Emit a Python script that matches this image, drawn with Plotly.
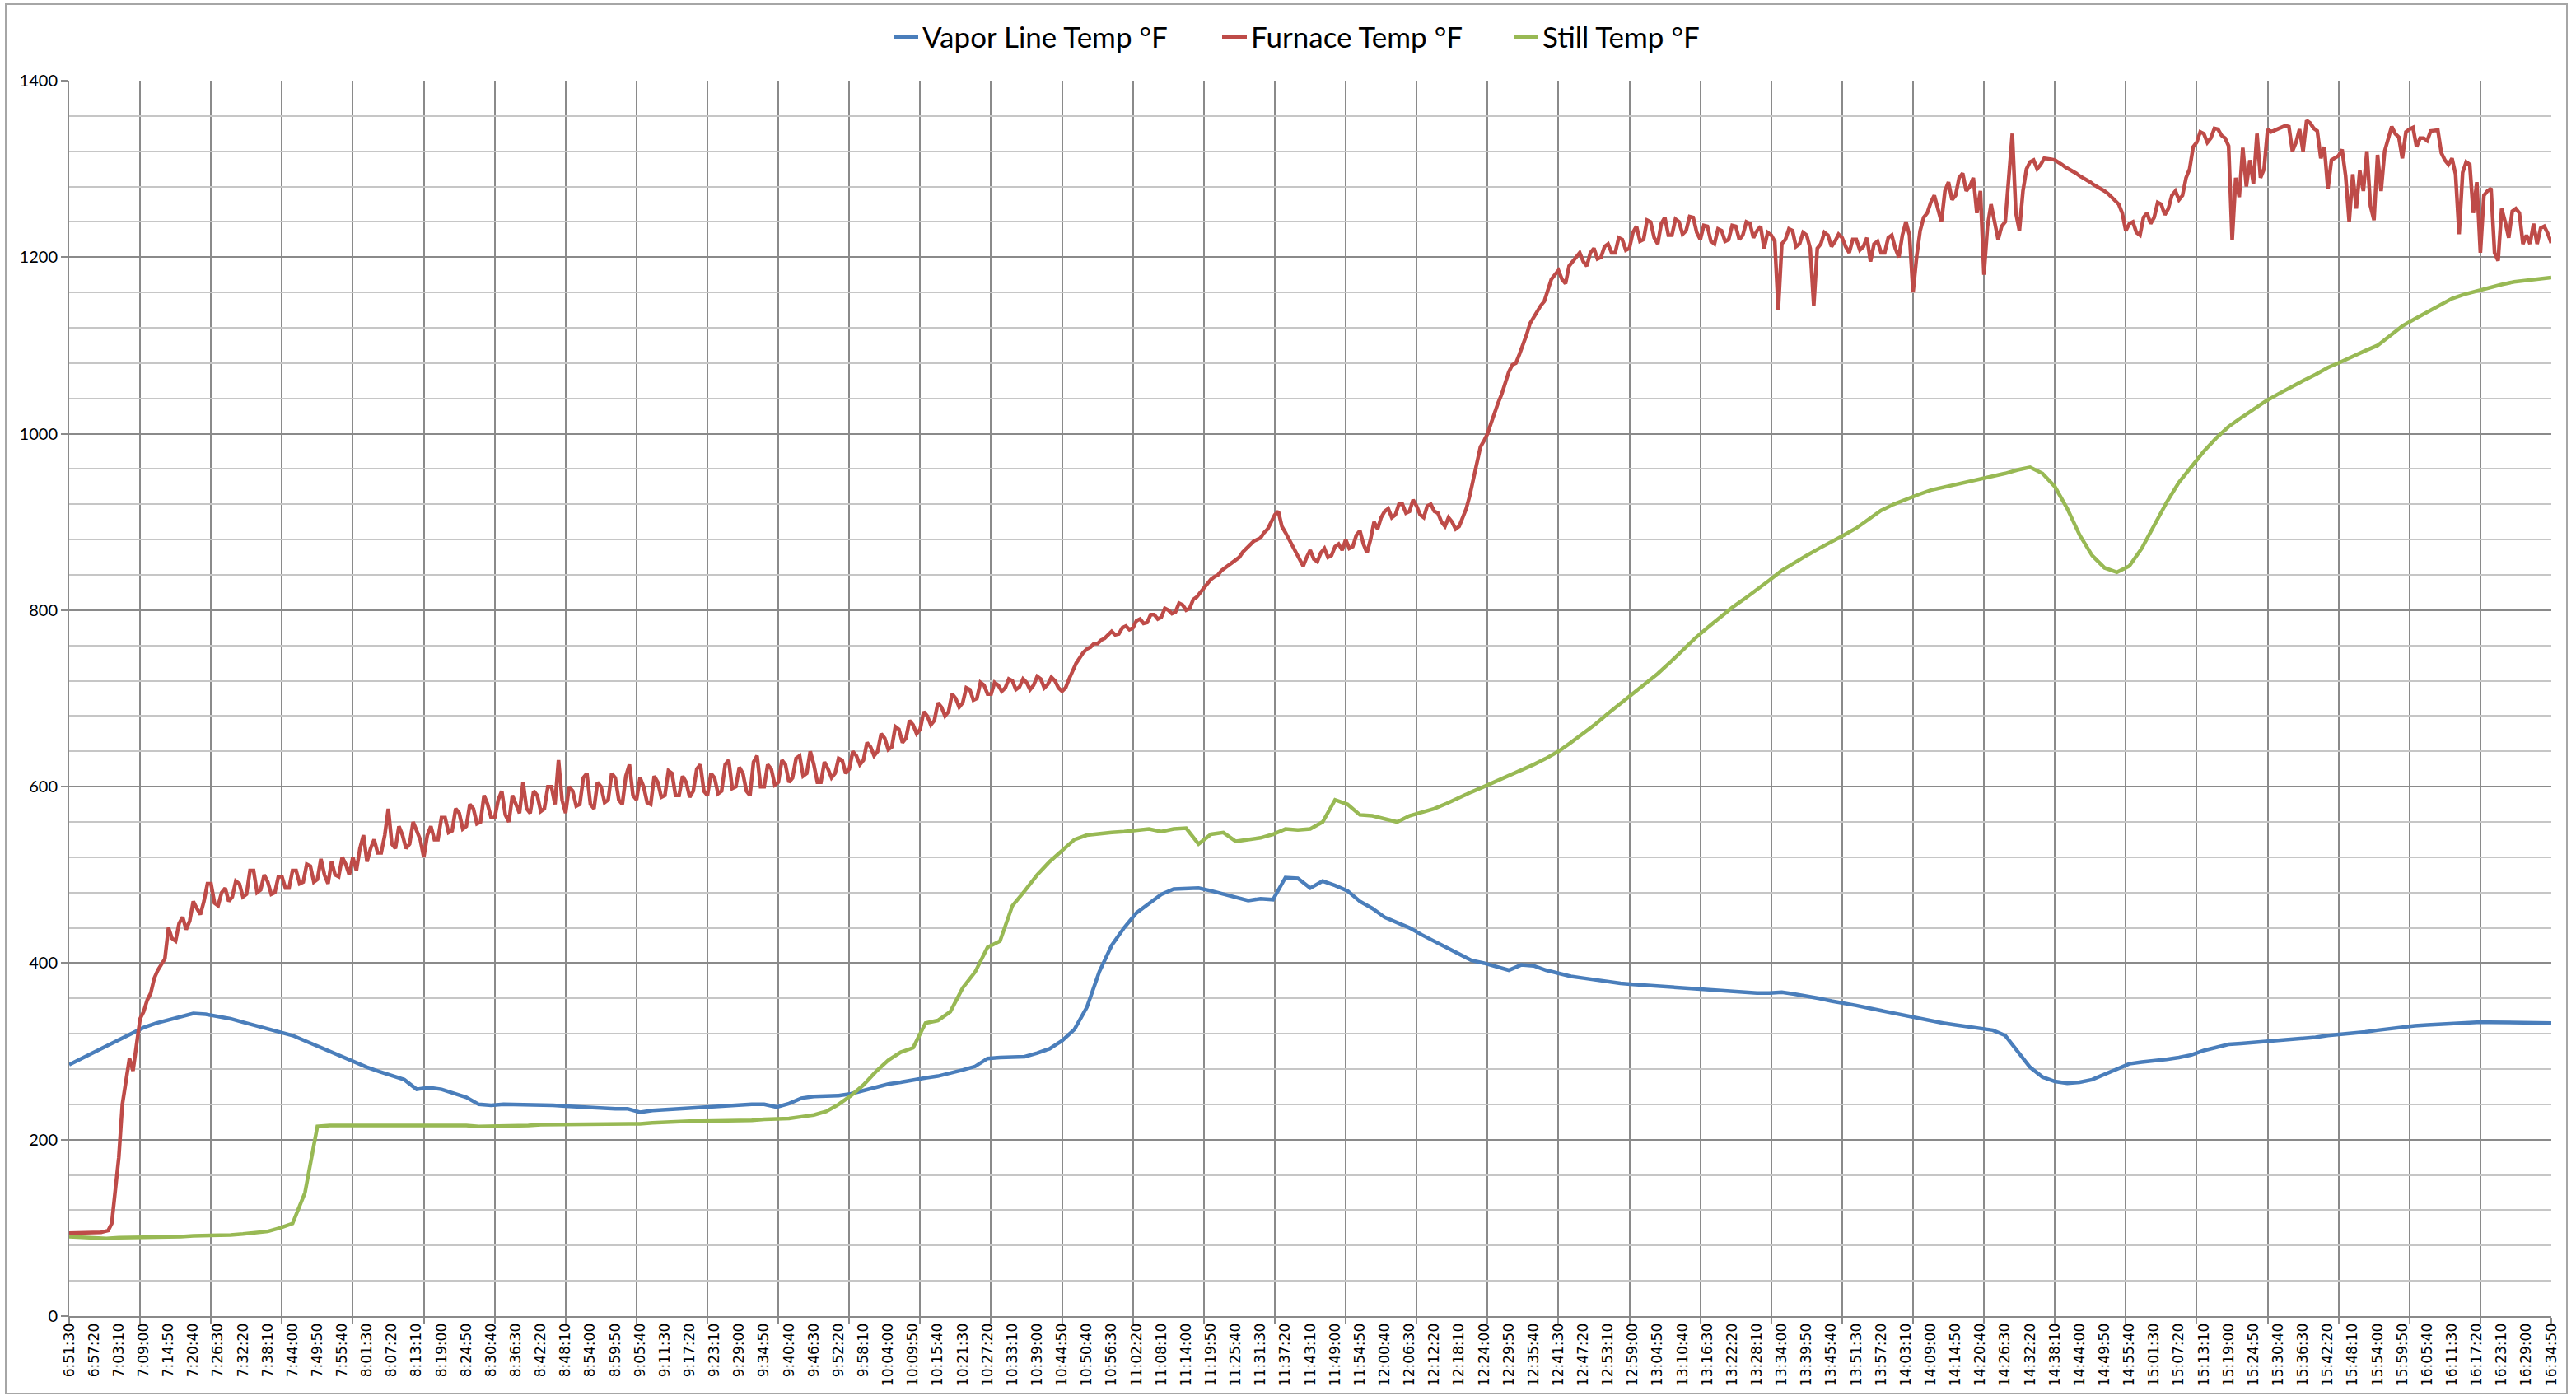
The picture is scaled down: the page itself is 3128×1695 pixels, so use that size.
import plotly.graph_objects as go

# ---------------- data ----------------
# category tick labels (one every 350 s of logging)
time_labels = [
    "6:51:30", "6:57:20", "7:03:10", "7:09:00", "7:14:50", "7:20:40", "7:26:30", "7:32:20", "7:38:10", "7:44:00",
    "7:49:50", "7:55:40", "8:01:30", "8:07:20", "8:13:10", "8:19:00", "8:24:50", "8:30:40", "8:36:30", "8:42:20",
    "8:48:10", "8:54:00", "8:59:50", "9:05:40", "9:11:30", "9:17:20", "9:23:10", "9:29:00", "9:34:50", "9:40:40",
    "9:46:30", "9:52:20", "9:58:10", "10:04:00", "10:09:50", "10:15:40", "10:21:30", "10:27:20", "10:33:10", "10:39:00",
    "10:44:50", "10:50:40", "10:56:30", "11:02:20", "11:08:10", "11:14:00", "11:19:50", "11:25:40", "11:31:30", "11:37:20",
    "11:43:10", "11:49:00", "11:54:50", "12:00:40", "12:06:30", "12:12:20", "12:18:10", "12:24:00", "12:29:50", "12:35:40",
    "12:41:30", "12:47:20", "12:53:10", "12:59:00", "13:04:50", "13:10:40", "13:16:30", "13:22:20", "13:28:10", "13:34:00",
    "13:39:50", "13:45:40", "13:51:30", "13:57:20", "14:03:10", "14:09:00", "14:14:50", "14:20:40", "14:26:30", "14:32:20",
    "14:38:10", "14:44:00", "14:49:50", "14:55:40", "15:01:30", "15:07:20", "15:13:10", "15:19:00", "15:24:50", "15:30:40",
    "15:36:30", "15:42:20", "15:48:10", "15:54:00", "15:59:50", "16:05:40", "16:11:30", "16:17:20", "16:23:10", "16:29:00",
    "16:34:50",
]
label_every_s = 350      # seconds between tick labels
grid_every_s = 1000      # seconds between vertical gridlines
total_s = 35000

series_names = ["Vapor Line Temp °F", "Furnace Temp °F", "Still Temp °F"]

# Vapor line temperature, one reading every 175 s
vapor_step_s = 175
vapor_line_temp = [
    285, 292, 299, 306, 313, 320, 327, 332, 336, 340,
    343, 342, 340, 337, 333, 329, 325, 322, 318, 312,
    306, 300, 293, 287, 282, 277, 272, 268, 257, 259,
    257, 253, 248, 240, 239, 240, 240, 240, 240, 239,
    238, 237, 236, 236, 235, 235, 231, 233, 234, 235,
    236, 236, 237, 238, 239, 240, 240, 237, 241, 247,
    249, 249, 250, 252, 256, 259, 263, 265, 268, 270,
    272, 275, 279, 283, 292, 293, 293, 294, 298, 303,
    312, 325, 350, 390, 420, 440, 457, 468, 478, 484,
    485, 485, 482, 478, 474, 471, 473, 472, 497, 496,
    485, 493, 488, 482, 470, 462, 452, 446, 440, 432,
    425, 418, 410, 403, 400, 396, 392, 398, 397, 392,
    388, 385, 383, 381, 378, 377, 376, 375, 373, 372,
    371, 370, 369, 368, 368, 367, 366, 366, 367, 365,
    363, 360, 357, 355, 352, 349, 346, 343, 341, 338,
    335, 332, 330, 328, 327, 324, 318, 300, 282, 271,
    266, 264, 265, 268, 274, 280, 286, 288, 289, 291,
    293, 296, 301, 305, 308, 309, 310, 311, 313, 314,
    315, 316, 318, 319, 320, 322, 324, 326, 328, 329,
    330, 331, 332, 333, 333, 333, 333, 333, 333, 332,
    332,
]

# Furnace temperature, one reading every 50 s
furnace_step_s = 50
furnace_temp = [
    94, 94, 94, 94, 94, 94, 95, 95, 95, 95, 96, 97, 105, 140, 180, 240, 268, 292, 278, 310,
    337, 345, 358, 366, 383, 392, 398, 405, 440, 428, 425, 445, 452, 438, 448, 470, 462, 455, 470, 490,
    490, 468, 465, 480, 485, 470, 475, 493, 490, 475, 478, 505, 505, 480, 483, 500, 492, 478, 480, 498,
    498, 485, 485, 505, 505, 490, 492, 512, 510, 492, 495, 518, 500, 490, 515, 500, 498, 520, 512, 500,
    520, 505, 530, 545, 515, 530, 540, 525, 525, 545, 575, 535, 530, 555, 545, 530, 535, 560, 550, 540,
    520, 545, 555, 540, 540, 565, 565, 548, 550, 575, 570, 552, 555, 580, 575, 558, 560, 590, 580, 565,
    565, 585, 595, 568, 560, 590, 580, 570, 605, 575, 570, 595, 590, 572, 575, 600, 600, 580, 630, 585,
    570, 600, 595, 578, 580, 610, 615, 580, 575, 605, 600, 582, 585, 615, 610, 585, 580, 612, 625, 590,
    585, 610, 600, 582, 580, 612, 605, 588, 590, 618, 615, 590, 590, 612, 605, 588, 595, 620, 625, 595,
    590, 615, 610, 592, 595, 625, 630, 598, 600, 622, 615, 595, 590, 628, 635, 600, 600, 625, 620, 602,
    605, 630, 625, 605, 610, 632, 635, 612, 615, 640, 625, 605, 605, 628, 620, 610, 615, 632, 630, 615,
    620, 640, 635, 625, 630, 650, 645, 635, 640, 660, 655, 642, 645, 668, 665, 650, 655, 675, 670, 660,
    665, 685, 680, 670, 675, 695, 690, 680, 685, 705, 700, 690, 695, 712, 710, 698, 700, 718, 715, 705,
    705, 718, 715, 708, 712, 722, 720, 710, 713, 722, 718, 710, 715, 725, 722, 712, 716, 724, 720, 712,
    708, 712, 722, 732, 740, 746, 752, 756, 758, 762, 762, 766, 768, 772, 776, 772, 773, 780, 782, 778,
    780, 788, 790, 785, 786, 795, 795, 790, 792, 802, 800, 796, 798, 808, 806, 800, 802, 812, 815, 820,
    825, 830, 835, 838, 840, 845, 848, 852, 855, 858, 860, 866, 870, 874, 878, 880, 882, 888, 892, 900,
    908, 912, 895, 888, 880, 872, 865, 858, 850, 860, 868, 858, 855, 865, 870, 860, 862, 872, 875, 868,
    880, 870, 872, 885, 890, 875, 865, 880, 900, 892, 905, 912, 915, 905, 908, 920, 920, 910, 912, 925,
    918, 908, 905, 918, 920, 912, 910, 900, 895, 905, 900, 892, 895, 905, 915, 930, 950, 968, 985, 992,
    1000, 1012, 1025, 1035, 1045, 1058, 1070, 1078, 1080, 1090, 1100, 1112, 1125, 1132, 1140, 1145, 1150, 1162, 1175, 1180,
    1185, 1175, 1170, 1190, 1195, 1200, 1205, 1195, 1190, 1205, 1210, 1198, 1200, 1212, 1215, 1205, 1205, 1222, 1220, 1208,
    1210, 1228, 1235, 1218, 1220, 1242, 1240, 1222, 1215, 1238, 1245, 1225, 1225, 1243, 1240, 1226, 1230, 1246, 1245, 1228,
    1220, 1236, 1235, 1218, 1215, 1232, 1230, 1218, 1220, 1236, 1235, 1220, 1225, 1240, 1238, 1222, 1230, 1235, 1210, 1228,
    1225, 1218, 1140, 1215, 1220, 1232, 1230, 1212, 1215, 1228, 1225, 1210, 1145, 1210, 1215, 1228, 1225, 1212, 1218, 1226,
    1222, 1212, 1205, 1220, 1220, 1208, 1212, 1222, 1195, 1215, 1218, 1205, 1205, 1222, 1225, 1210, 1200, 1225, 1240, 1225,
    1160, 1200, 1230, 1245, 1250, 1262, 1270, 1255, 1240, 1275, 1285, 1265, 1270, 1290, 1295, 1275, 1280, 1290, 1250, 1275,
    1180, 1235, 1260, 1240, 1220, 1235, 1240, 1290, 1340, 1250, 1230, 1275, 1300, 1308, 1310, 1300, 1305, 1312, 1312, 1311,
    1310, 1308, 1305, 1302, 1300, 1298, 1295, 1292, 1290, 1288, 1285, 1282, 1280, 1278, 1275, 1272, 1268, 1264, 1260, 1250,
    1230, 1238, 1240, 1228, 1225, 1245, 1250, 1238, 1245, 1262, 1260, 1248, 1255, 1270, 1275, 1265, 1270, 1290, 1300, 1325,
    1330, 1342, 1340, 1330, 1335, 1346, 1345, 1338, 1335, 1326, 1219, 1290, 1268, 1324, 1280, 1310, 1283, 1340, 1290, 1300,
    1345, 1342, 1344, 1346, 1348, 1349, 1348, 1320, 1330, 1345, 1320, 1355, 1352, 1346, 1343, 1312, 1325, 1277, 1310, 1312,
    1315, 1322, 1292, 1240, 1294, 1255, 1298, 1275, 1320, 1258, 1242, 1316, 1275, 1320, 1335, 1348, 1340, 1336, 1312, 1342,
    1345, 1347, 1325, 1335, 1335, 1332, 1343, 1344, 1344, 1318, 1310, 1305, 1312, 1294, 1226, 1296, 1308, 1305, 1250, 1285,
    1205, 1270, 1275, 1278, 1205, 1196, 1255, 1240, 1222, 1252, 1255, 1250, 1215, 1225, 1215, 1238, 1215, 1233, 1235, 1227,
    1216,
]

# Still temperature, one reading every 175 s
still_step_s = 175
still_temp = [
    90, 89, 88, 88, 89, 89, 89, 90, 90, 90,
    91, 91, 91, 92, 93, 94, 96, 100, 105, 140,
    215, 216, 216, 216, 216, 217, 216, 216, 216, 217,
    216, 216, 216, 215, 215, 216, 216, 216, 217, 217,
    217, 217, 217, 217, 218, 218, 218, 219, 220, 221,
    221, 221, 221, 222, 222, 222, 223, 223, 224, 226,
    228, 232, 240, 250, 262, 277, 290, 299, 304, 332,
    335, 345, 372, 390, 418, 425, 465, 482, 500, 515,
    528, 540, 545, 547, 548, 549, 550, 552, 549, 552,
    553, 535, 546, 548, 538, 540, 542, 546, 552, 551,
    552, 560, 585, 580, 568, 567, 563, 560, 567, 571,
    575, 581, 588, 594, 600, 606, 612, 618, 625, 632,
    640, 650, 660, 671, 683, 694, 705, 716, 728, 741,
    755, 768, 780, 792, 803, 813, 823, 834, 845, 854,
    862, 870, 877, 885, 893, 903, 913, 920, 926, 931,
    936, 939, 942, 945, 948, 951, 955, 959, 962, 955,
    940, 915, 885, 862, 848, 843, 850, 870, 897, 922,
    945, 963, 980, 995, 1008, 1018, 1028, 1037, 1045, 1053,
    1060, 1067, 1075, 1081, 1088, 1094, 1100, 1111, 1122, 1130,
    1138, 1146, 1153, 1158, 1162, 1166, 1169, 1172, 1174, 1176,
    1177,
]

y_max = 1400
y_major = 200
y_minor = 40

# ---------------- figure ----------------
W, H = 3128, 1695
L, R, T, B = 84, 30, 98, 97
pw = W - L - R
ph = H - T - B

colors = ["#4A7EBB", "#BE4B48", "#98B954"]
legend_ids = ["legend", "legend2", "legend3"]
legend_left_px = [1080, 1479, 1833]   # where each legend entry starts


def times(n, step):
    return [i * step for i in range(n)]


fig = go.Figure()
fig.add_trace(go.Scatter(x=times(len(vapor_line_temp), vapor_step_s), y=vapor_line_temp,
                         mode="lines", name=series_names[0], legend=legend_ids[0],
                         line=dict(color=colors[0], width=4.5)))
fig.add_trace(go.Scatter(x=times(len(furnace_temp), furnace_step_s), y=furnace_temp,
                         mode="lines", name=series_names[1], legend=legend_ids[1],
                         line=dict(color=colors[1], width=4.5)))
fig.add_trace(go.Scatter(x=times(len(still_temp), still_step_s), y=still_temp,
                         mode="lines", name=series_names[2], legend=legend_ids[2],
                         line=dict(color=colors[2], width=4.5)))

grid_dark = "#8a8a8a"
grid_light = "#c6c6c6"

legend_font = dict(family="Lato", size=35, color="#000000")
legends = {}
for lid, lx in zip(legend_ids, legend_left_px):
    legends[lid] = dict(orientation="h", x=(lx - L) / pw, xanchor="left",
                        y=(H - B - 45) / ph, yanchor="middle",
                        font=legend_font, bgcolor="rgba(0,0,0,0)", borderwidth=0)

fig.update_layout(
    width=W, height=H,
    margin=dict(l=L, r=R, t=T, b=B, pad=0),
    paper_bgcolor="white", plot_bgcolor="white",
    showlegend=True,
    **legends,
    xaxis=dict(
        range=[0, total_s],
        tickmode="array",
        tickvals=[i * label_every_s for i in range(len(time_labels))],
        ticktext=time_labels,
        tickangle=-90,
        tickfont=dict(family="DejaVu Sans", size=17, color="#000000"),
        ticks="",
        showgrid=False,
        zeroline=False,
        showline=True, linecolor=grid_dark, linewidth=2,
        minor=dict(tickmode="linear", tick0=0, dtick=grid_every_s, showgrid=True,
                   gridcolor=grid_dark, gridwidth=1.5,
                   ticks="outside", ticklen=7, tickcolor=grid_dark, tickwidth=1.5),
    ),
    yaxis=dict(
        range=[0, y_max],
        tick0=0, dtick=y_major,
        tickfont=dict(family="Lato", size=20, color="#000000"),
        ticks="outside", ticklen=8, tickcolor=grid_dark, tickwidth=1.5,
        showgrid=True, gridcolor=grid_dark, gridwidth=1.5,
        zeroline=False,
        showline=True, linecolor=grid_dark, linewidth=2,
        minor=dict(dtick=y_minor, showgrid=True, gridcolor=grid_light, gridwidth=1.5),
    ),
)

# chart-area border (decoration)
fig.add_shape(type="rect", xref="paper", yref="paper",
              x0=(7 - L) / pw, x1=(3117 - L) / pw,
              y0=(H - B - 1692) / ph, y1=(H - B - 5) / ph,
              line=dict(color="#a6a6a6", width=2), fillcolor="rgba(0,0,0,0)", layer="below")

fig.write_html("out.html", config={"displayModeBar": False},
               post_script="document.body.style.margin='0';")
